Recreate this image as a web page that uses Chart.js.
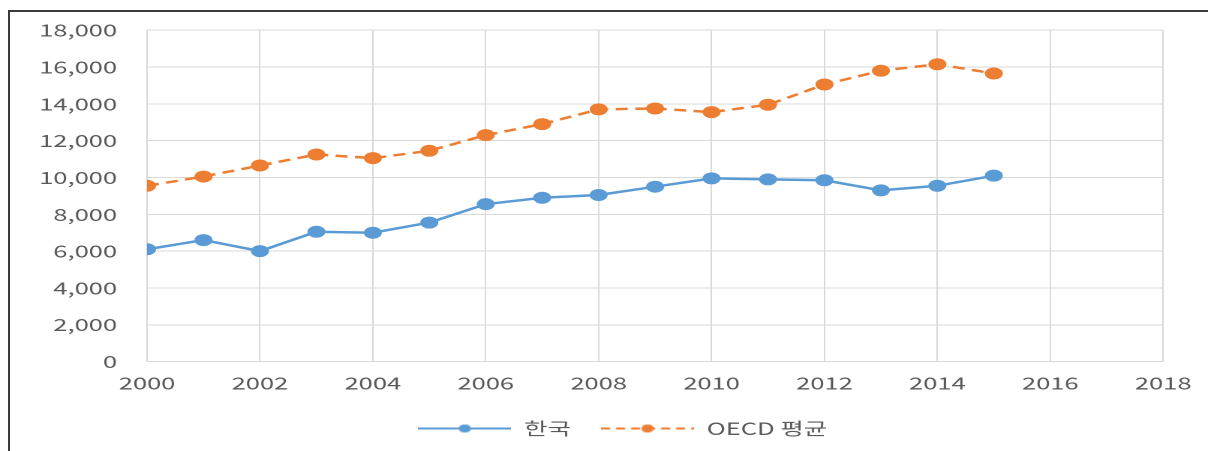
<!DOCTYPE html>
<html>
<head>
<meta charset="utf-8">
<script src="https://cdn.jsdelivr.net/npm/chart.js@4"></script>
<style>
    body { margin: 0; background: #fff; overflow: hidden; }
    #frame { position: absolute; left: 8px; top: 10px; width: 1210px; height: 450px;
             border-left: 2px solid #3a3a3a; border-top: 2px solid #3a3a3a; }
    #wrap { position: absolute; left: 0; top: 0; width: 805px; height: 451px;
            transform: scale(1.5006, 1); transform-origin: 0 0; }
</style>
</head>
<body>
<div id="frame"></div>
<div id="wrap"><canvas id="myChart" width="805" height="451"></canvas></div>
<script>
// data
var years = [2000, 2001, 2002, 2003, 2004, 2005, 2006, 2007, 2008, 2009, 2010, 2011, 2012, 2013, 2014, 2015];
var korea = [6100, 6600, 6000, 7050, 7000, 7550, 8550, 8900, 9050, 9500, 9950, 9900, 9850, 9300, 9550, 10100];
var oecd = [9550, 10050, 10650, 11250, 11050, 11450, 12300, 12900, 13700, 13750, 13550, 13950, 15050, 15800, 16150, 15650];
var seriesNames = ['한국', 'OECD 평균'];

var blue = '#5b9bd5';
var orange = '#ed7d31';
var textColor = '#595959';
var gridColor = '#d9d9d9';
var font = { family: '"Noto Sans CJK KR", "Noto Sans", sans-serif', size: 17 };

function toPoints(values) {
    return values.map(function (v, i) { return { x: years[i], y: v }; });
}

// little line + dot pictures for the legend
function legendIcon(color, dashed) {
    var c = document.createElement('canvas');
    c.width = 62;
    c.height = 12;
    var g = c.getContext('2d');
    g.strokeStyle = color;
    g.lineWidth = 2;
    if (dashed) g.setLineDash([6, 4]);
    g.beginPath();
    g.moveTo(0, 6);
    g.lineTo(62, 6);
    g.stroke();
    g.fillStyle = color;
    g.beginPath();
    g.arc(31, 6, 4, 0, Math.PI * 2);
    g.fill();
    return c;
}

var icons = [legendIcon(blue, false), legendIcon(orange, true)];

// the legend sits a bit right of the canvas centre in the original
var shiftLegend = {
    id: 'shiftLegend',
    afterLayout: function (c) {
        c.legend.left += 46;
    }
};

var ctx = document.getElementById('myChart').getContext('2d');
var chart = new Chart(ctx, {
    type: 'line',
    data: {
        datasets: [{
            label: seriesNames[0],
            data: toPoints(korea),
            borderColor: blue,
            backgroundColor: blue,
            borderWidth: 2.5,
            pointRadius: 6,
            pointBorderWidth: 0,
            tension: 0
        }, {
            label: seriesNames[1],
            data: toPoints(oecd),
            borderColor: orange,
            backgroundColor: orange,
            borderWidth: 2.5,
            borderDash: [8, 5],
            pointRadius: 6,
            pointBorderWidth: 0,
            tension: 0
        }]
    },
    plugins: [shiftLegend],
    options: {
        responsive: false,
        animation: false,
        devicePixelRatio: 2,
        layout: { padding: { left: 0, right: 21, top: 30, bottom: 4 } },
        scales: {
            x: {
                type: 'linear',
                min: 2000,
                max: 2018,
                grid: { color: gridColor, drawTicks: false },
                border: { color: gridColor },
                ticks: {
                    stepSize: 2,
                    padding: 11,
                    color: textColor,
                    font: font,
                    callback: function (v) { return String(v); }
                },
                afterFit: function (scale) { scale.height -= 4; }
            },
            y: {
                min: 0,
                max: 18000,
                grid: { color: gridColor, drawTicks: false },
                border: { color: gridColor },
                ticks: {
                    stepSize: 2000,
                    padding: 20,
                    color: textColor,
                    font: font,
                    callback: function (v) { return v.toLocaleString('en-US'); }
                },
                afterFit: function (scale) { scale.width = 98; }
            }
        },
        plugins: {
            tooltip: { enabled: false },
            legend: {
                position: 'bottom',
                labels: {
                    color: textColor,
                    font: font,
                    usePointStyle: true,
                    pointStyleWidth: 62,
                    padding: 20,
                    generateLabels: function (c) {
                        var items = Chart.defaults.plugins.legend.labels.generateLabels(c);
                        items.forEach(function (item, i) { item.pointStyle = icons[i]; });
                        return items;
                    }
                }
            }
        }
    }
});
</script>
</body>
</html>
